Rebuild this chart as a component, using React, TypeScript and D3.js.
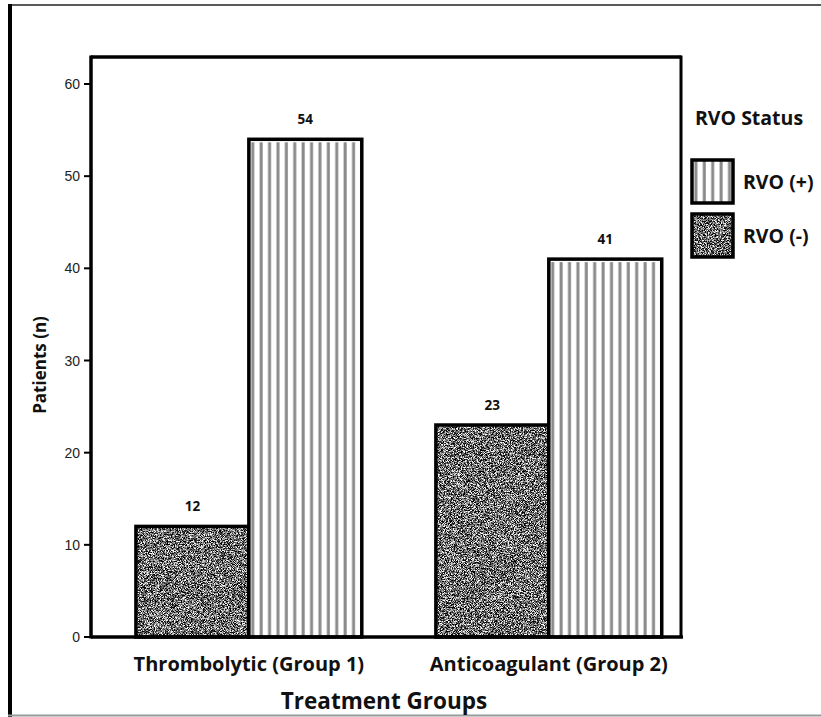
import * as d3 from "d3";

const groups = ["Thrombolytic (Group 1)", "Anticoagulant (Group 2)"];
const seriesKeys = ["neg", "pos"];
const seriesLabels = ["RVO (-)", "RVO (+)"];
const rvoNeg = [12, 23];
const rvoPos = [54, 41];
const yTicks = [0, 10, 20, 30, 40, 50, 60];

const W = 821;
const H = 717;
const plot = { left: 91, right: 681, top: 57, bottom: 637 };
const boldFont = "'Open Sans', 'DejaVu Sans', sans-serif";
const tickFont = "'Liberation Sans', Arial, sans-serif";

export default function App() {
  const y = d3.scaleLinear().domain([0, 60]).range([plot.bottom, 84]);
  const x0 = d3
    .scaleBand<string>()
    .domain(groups)
    .range([plot.left, plot.right])
    .paddingInner(0.247)
    .paddingOuter(0.107)
    .align(0.7);
  const x1 = d3.scaleBand<string>().domain(seriesKeys).range([0, x0.bandwidth()]);

  const bars = groups.flatMap((g, i) =>
    seriesKeys.map((k) => {
      const v = k === "neg" ? rvoNeg[i] : rvoPos[i];
      return { g, k, v, x: (x0(g) ?? 0) + (x1(k) ?? 0), w: x1.bandwidth(), id: `${i}-${k}` };
    })
  );

  const legendY = [180, 234];

  return (
    <svg
      width={W}
      height={H}
      viewBox={`0 0 ${W} ${H}`}
      style={{ position: "absolute", left: 0, top: 0, background: "#fff" }}
    >
      <defs>
        <filter id="noise" x="0" y="0" width="1" height="1" filterUnits="objectBoundingBox" colorInterpolationFilters="sRGB">
          <feTurbulence type="fractalNoise" baseFrequency="1.3" numOctaves="2" seed="7" result="t" />
          <feColorMatrix
            in="t"
            type="matrix"
            values="1 0 0 0 0  1 0 0 0 0  1 0 0 0 0  0 0 0 0 1"
            result="g"
          />
          <feComponentTransfer in="g">
            <feFuncR type="linear" slope="3.2" intercept="-1.17" />
            <feFuncG type="linear" slope="3.2" intercept="-1.17" />
            <feFuncB type="linear" slope="3.2" intercept="-1.17" />
          </feComponentTransfer>
        </filter>
        {bars
          .filter((b) => b.k === "pos")
          .map((b) => (
            <pattern key={b.id} id={`stripe-${b.id}`} patternUnits="userSpaceOnUse" x={b.x} y={0} width={8.4} height={10}>
              <rect width={8.4} height={10} fill="#fff" />
              <rect x={2.4} width={3} height={10} fill="#8a8a8a" />
            </pattern>
          ))}
        <pattern id="stripe-legend" patternUnits="userSpaceOnUse" x={692} y={0} width={8.4} height={10}>
          <rect width={8.4} height={10} fill="#fff" />
          <rect x={2.4} width={3} height={10} fill="#8a8a8a" />
        </pattern>
      </defs>

      <rect width={W} height={H} fill="#fff" />

      {/* outer frame */}
      <line x1={8} x2={W} y1={5} y2={5} stroke="#222" strokeWidth={1.5} />
      <line x1={10} x2={10} y1={4} y2={H} stroke="#000" strokeWidth={4} />
      <line x1={8} x2={W} y1={715.5} y2={715.5} stroke="#999" strokeWidth={2} />

      {/* bars */}
      {bars.map((b) => {
        const top = y(b.v);
        const h = plot.bottom - top;
        return (
          <g key={b.id}>
            {b.k === "neg" ? (
              <rect x={b.x} y={top} width={b.w} height={h} fill="#555" filter="url(#noise)" />
            ) : (
              <rect x={b.x} y={top + 3} width={b.w} height={h - 3} fill={`url(#stripe-${b.id})`} />
            )}
            <rect x={b.x} y={top} width={b.w} height={h} fill="none" stroke="#000" strokeWidth={3.5} />
            <text
              x={b.x + b.w / 2}
              y={top - 15}
              textAnchor="middle"
              fontFamily={boldFont}
              fontWeight={700}
              fontSize={13.5}
              fill="#111"
            >
              {b.v}
            </text>
          </g>
        );
      })}

      {/* plot frame */}
      <line x1={plot.left} x2={plot.right} y1={plot.top} y2={plot.top} stroke="#000" strokeWidth={3.5} />
      <line x1={plot.right} x2={plot.right} y1={plot.top - 1.5} y2={plot.bottom} stroke="#000" strokeWidth={3} />
      <line x1={plot.left} x2={plot.left} y1={plot.top - 1.5} y2={plot.bottom + 1.5} stroke="#000" strokeWidth={3.5} />
      <line x1={plot.left} x2={plot.right + 2} y1={plot.bottom} y2={plot.bottom} stroke="#000" strokeWidth={3.5} />

      {/* y axis ticks */}
      {yTicks.map((t) => (
        <g key={t}>
          <line x1={84} x2={plot.left} y1={y(t)} y2={y(t)} stroke="#000" strokeWidth={2} />
          <text
            x={80}
            y={y(t)}
            dy="0.36em"
            textAnchor="end"
            fontFamily={tickFont}
            fontSize={14}
            fill="#222"
          >
            {t}
          </text>
        </g>
      ))}

      {/* x axis labels */}
      {groups.map((g) => (
        <text
          key={g}
          x={(x0(g) ?? 0) + x0.bandwidth() / 2}
          y={671}
          textAnchor="middle"
          fontFamily={boldFont}
          fontWeight={700}
          fontSize={20}
          fill="#111"
        >
          {g}
        </text>
      ))}
      <text x={384} y={709} textAnchor="middle" fontFamily={boldFont} fontWeight={700} fontSize={22.5} fill="#111">
        Treatment Groups
      </text>
      <text
        transform="translate(46,365) rotate(-90)"
        textAnchor="middle"
        fontFamily={boldFont}
        fontWeight={700}
        fontSize={17}
        fill="#111"
      >
        Patients (n)
      </text>

      {/* legend */}
      <text x={695} y={125} fontFamily={boldFont} fontWeight={700} fontSize={19.5} fill="#111">
        RVO Status
      </text>
      {[1, 0].map((si, row) => (
        <g key={si}>
          {si === 0 ? (
            <rect x={692} y={legendY[row] - 20} width={41} height={43} fill="#555" filter="url(#noise)" />
          ) : (
            <rect x={692} y={legendY[row] - 20} width={41} height={43} fill="url(#stripe-legend)" />
          )}
          <rect x={692} y={legendY[row] - 20} width={41} height={43} fill="none" stroke="#000" strokeWidth={3.5} />
          <text x={743} y={legendY[row] + 9} fontFamily={boldFont} fontWeight={700} fontSize={19.5} fill="#111">
            {seriesLabels[si]}
          </text>
        </g>
      ))}
    </svg>
  );
}
